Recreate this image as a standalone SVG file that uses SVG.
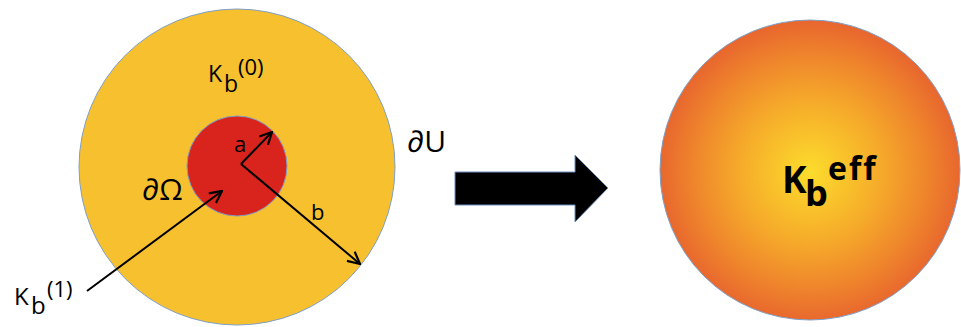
<svg xmlns="http://www.w3.org/2000/svg" width="961" height="327" viewBox="0 0 961 327">
<style>
.lbl{font-family:"Open Sans","Liberation Sans",sans-serif;fill:#000;font-weight:500}
.conn{stroke:#000;stroke-width:2;fill:none}
.eff{font-family:"Open Sans","Liberation Sans",sans-serif;font-weight:bold;fill:#000;font-variant-ligatures:none}
</style>
<defs>
<marker id="ah" viewBox="0 0 14 14" refX="13" refY="7" markerWidth="14" markerHeight="14" markerUnits="userSpaceOnUse" orient="auto">
<path d="M1,1 L13,7 L1,13" fill="none" stroke="#000" stroke-width="2.2"/>
</marker>
<radialGradient id="rg" cx="810" cy="172" r="150" gradientUnits="userSpaceOnUse">
<stop offset="0" stop-color="#fcdc2c"/>
<stop offset="0.45" stop-color="#f6ad2a"/>
<stop offset="0.8" stop-color="#ee822c"/>
<stop offset="1" stop-color="#e8672e"/>
</radialGradient>
</defs>
<g id="outer">
<circle cx="237" cy="167" r="158" fill="#f6c02f" stroke="#7f9fc6" stroke-width="1"/>
<text class="lbl" x="208" y="82" font-size="23">K</text>
<text class="lbl" x="224" y="92" font-size="23">b</text>
<text class="lbl" x="238" y="75" font-size="22">(0)</text>
</g>
<g id="inner">
<circle cx="237" cy="166" r="50" fill="#d9241e" stroke="#7f9fc6" stroke-width="1"/>
</g>
<g id="connectors">
<line class="conn" x1="241" y1="164" x2="272" y2="132" marker-end="url(#ah)"/>
<line class="conn" x1="241" y1="164" x2="360" y2="264" marker-end="url(#ah)"/>
<line class="conn" x1="87" y1="291" x2="222" y2="191" marker-end="url(#ah)"/>
</g>
<g id="labels">
<text class="lbl" x="234" y="152" font-size="22">a</text>
<text class="lbl" x="311" y="220" font-size="22">b</text>
<text class="lbl" x="142" y="200" font-size="30">∂Ω</text>
<text class="lbl" x="407" y="152" font-size="30">∂U</text>
<text class="lbl" x="14" y="305" font-size="24">K</text>
<text class="lbl" x="31" y="314" font-size="24">b</text>
<text class="lbl" x="47" y="297" font-size="22">(1)</text>
</g>
<g id="bigarrow">
<polygon points="455,172 575,172 575,155 608,188 575,222 575,205 455,205" fill="#000" stroke="#6f8fbf" stroke-width="1"/>
</g>
<g id="effective">
<circle cx="810" cy="170" r="150" fill="url(#rg)" stroke="#7f9fc6" stroke-width="1"/>
<text class="eff" x="782" y="193" font-size="37">K</text>
<text class="eff" x="805" y="206" font-size="36">b</text>
<text class="eff" x="828" y="180" font-size="32" letter-spacing="2">eff</text>
</g>
</svg>
